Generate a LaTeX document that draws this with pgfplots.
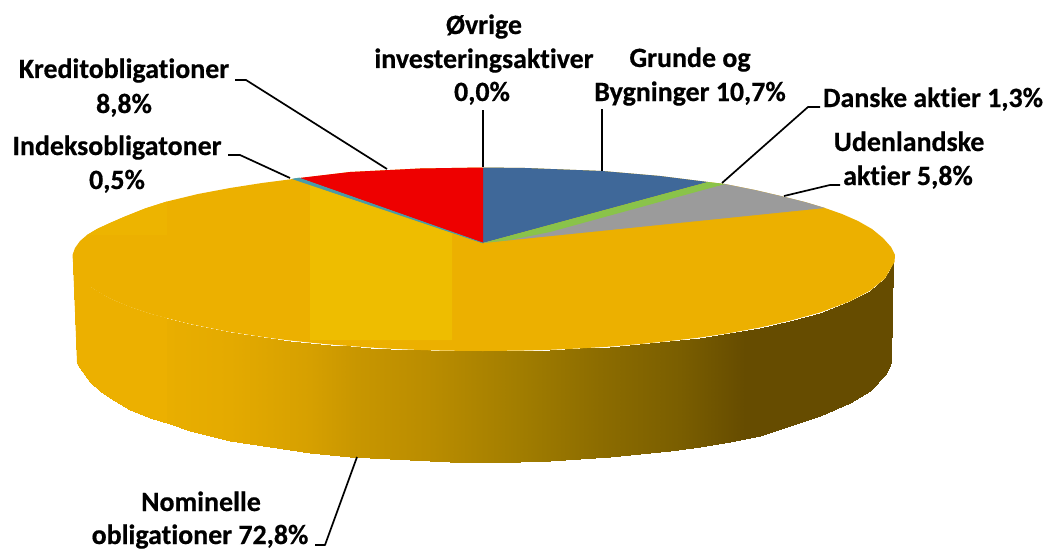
\documentclass[border=0pt]{standalone}
\usepackage{fontspec}
\setmainfont{Carlito}[Ligatures=CommonOff,BoldFeatures={FakeBold=0.5}]
\usepackage{pgfplots}
\pgfplotsset{compat=1.18}
\definecolor{goldtop}{RGB}{236,176,0}
\definecolor{goldlight}{RGB}{238,189,0}
\definecolor{goldmid}{RGB}{237,180,0}
\definecolor{bluesl}{RGB}{63,104,153}
\definecolor{greensl}{RGB}{138,195,74}
\definecolor{graysl}{RGB}{155,155,155}
\definecolor{redsl}{RGB}{238,0,0}
\definecolor{tealsl}{RGB}{72,155,170}
\tikzset{lab/.style={font=\fontsize{28}{30}\selectfont\bfseries,anchor=base,inner sep=0pt}}
\pgfplotsset{
  base/.style={scale only axis,width=1050bp,height=549bp,xmin=0,xmax=1050,ymin=0,ymax=549,y dir=reverse,hide axis,clip=false,at={(0,0)},anchor=south west},
  lead/.style={black,line width=1.7bp,no marks,line join=round}
}
\begin{document}
\begin{tikzpicture}
\begin{axis}[base,view={0}{90},zmin=0,zmax=1,
  colormap={side}{rgb255(73)=(236,176,0) rgb255(167)=(233,174,0) rgb255(230)=(228,170,0) rgb255(310)=(214,160,0) rgb255(357)=(200,150,0) rgb255(433)=(185,140,0) rgb255(525)=(160,124,0) rgb255(600)=(140,108,0) rgb255(680)=(122,94,0) rgb255(745)=(102,76,0) rgb255(893)=(102,76,0)},
  point meta min=73,point meta max=893]
\addplot3[surf,shader=interp,mesh/cols=2,point meta=x] table {
73 262 0
77 362 0
74 268 0
78 365 0
80 277 0
80 368 0
90 286.6 0
90 382 0
100 293 0
100 391 0
110 298.5 0
110 398 0
130 307 0
130 410 0
150 313.6 0
150 418 0
170 319 0
170 424 0
190 324 0
190 431 0
210 328 0
210 436 0
230 332 0
230 440.5 0
250 335 0
250 444 0
270 338 0
270 447 0
290 340.5 0
290 450 0
310 342.6 0
310 452.6 0
330 344.5 0
330 454.7 0
350 346 0
350 456.6 0
370 347.5 0
370 458 0
390 348.7 0
390 459.4 0
410 349.6 0
410 460.4 0
430 350.3 0
430 461 0
450 350.7 0
450 461.7 0
483 351 0
483 462 0
520 350.6 0
520 461.6 0
550 349.8 0
550 460.6 0
580 348.4 0
580 459 0
610 346.6 0
610 457 0
640 344 0
640 454.3 0
670 341 0
670 451 0
700 337.5 0
700 446.8 0
730 333 0
730 441.7 0
760 327.5 0
760 435.6 0
790 320.7 0
790 426 0
820 312.5 0
820 416 0
850 301.3 0
850 403 0
870 290.7 0
870 391 0
885 278.4 0
885 375 0
891 268 0
889 368 0
893 262 0
891 362 0
};
\end{axis}
\begin{axis}[base]
\path (axis cs:0,0) rectangle (axis cs:1050,549);
% left part of the side, same colour as the top
\addplot[fill=goldtop,draw=none] coordinates {(73,262)(74,268)(80,277)(90,286.6)(100,293)(110,298.5)(130,307)(150,313.6)(167,318)(167,423)(150,418)(130,410)(110,398)(100,391)(90,382)(80,368)(78,365)(77,362)} -- cycle;
% top surface
\addplot[fill=goldtop,draw=none] coordinates {
(73,262)(72.5,255)(75,248)(80,241)(87,235)(97,229)(110,223)(125,216.5)(145,208.5)(167,201.5)(198,194)(230,188)(262,183)(293,179)(350,172)(420,168.5)(483,167.5)
(525,168)(602,171)(660,176)(708,182)(725,184)(755,190)(785,197)(805,202)(825,208)(842,214)(858,221)(872,229)(883,238)(891,247)(895,255)(894.5,262)
(891,268)(885,278.4)(870,290.7)(850,301.3)(820,312.5)(790,320.7)(760,327.5)(730,333)(700,337.5)(670,341)(640,344)(610,346.6)(580,348.4)(550,349.8)(520,350.6)(483,351)
(450,350.7)(430,350.3)(410,349.6)(390,348.7)(370,347.5)(350,346)(330,344.5)(310,342.6)(290,340.5)(270,338)(250,335)(230,332)(210,328)(190,324)(170,319)(150,313.6)(130,307)(110,298.5)(100,293)(90,286.6)(80,277)(74,268)
} -- cycle;
% lighter facets
\addplot[fill=goldmid,draw=none] coordinates {(87,235)(97,229)(110,223)(125,216.5)(145,208.5)(167,201.5)(167,235)} -- cycle;
\addplot[fill=goldlight,draw=none] coordinates {(310,185)(452,233)(452,340)(310,340)} -- cycle;
% slices
\addplot[fill=bluesl,draw=none] coordinates {(483,243)(483,167.5)(525,168)(602,171)(660,176)(708,182)} -- cycle;
\addplot[fill=graysl,draw=none] coordinates {(483,243)(725,184)(755,190)(785,197)(805,202)(825,208)} -- cycle;
\addplot[fill=greensl,draw=none] coordinates {(483,243)(708,182)(725,184)(550,232)(510,240)} -- cycle;
\addplot[fill=redsl,draw=none] coordinates {(483,243)(299,178)(350,172)(420,168.5)(483,167.5)} -- cycle;
\addplot[fill=tealsl,draw=tealsl,line width=0.6bp] coordinates {(483,243)(293,179)(299,178)} -- cycle;
% leaders
\addplot[lead] coordinates {(235,80)(246,80)(387,169)};
\addplot[lead] coordinates {(228,155)(240,155)(290,178)};
\addplot[lead] coordinates {(483,110)(483,167)};
\addplot[lead] coordinates {(602,109)(602,171)};
\addplot[lead] coordinates {(820,107)(808,107)(722,183)};
\addplot[lead] coordinates {(840,185)(830,185)(784,196)};
\addplot[lead] coordinates {(315,545)(325,545)(357,457)};
% labels
\node[lab] at (axis cs:484,34) {Øvrige};
\node[lab] at (axis cs:484,68) {investeringsaktiver};
\node[lab] at (axis cs:482,101) {0,0\%};
\node[lab] at (axis cs:124,78) {Kreditobligationer};
\node[lab] at (axis cs:124,113) {8,8\%};
\node[lab] at (axis cs:117,155) {Indeksobligatoner};
\node[lab] at (axis cs:117,189) {0,5\%};
\node[lab] at (axis cs:690,67) {Grunde og};
\node[lab] at (axis cs:690,101) {Bygninger 10,7\%};
\node[lab] at (axis cs:933,107) {Danske aktier 1,3\%};
\node[lab] at (axis cs:909,151) {Udenlandske};
\node[lab] at (axis cs:908,185) {aktier 5,8\%};
\node[lab] at (axis cs:201,511) {Nominelle};
\node[lab] at (axis cs:200,544) {obligationer 72,8\%};
\end{axis}
\end{tikzpicture}
\end{document}
